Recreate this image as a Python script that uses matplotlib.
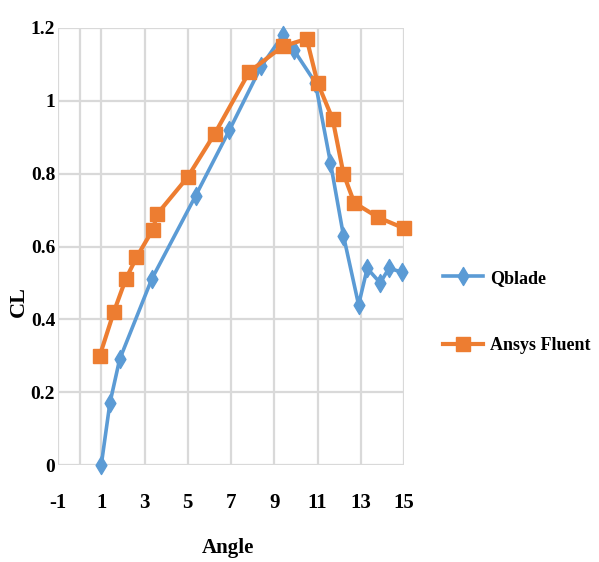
import numpy as np
import matplotlib.pyplot as plt
from matplotlib.path import Path

# values
qblade_angle = [1.0, 1.4, 1.85, 3.33, 5.37, 6.93, 8.4, 9.4, 9.9, 10.9, 11.6, 12.2, 12.9, 13.3, 13.9, 14.3, 14.9]
qblade_cl = [0.0, 0.17, 0.29, 0.51, 0.74, 0.92, 1.095, 1.18, 1.14, 1.05, 0.83, 0.63, 0.44, 0.54, 0.50, 0.54, 0.53]

fluent_angle = [0.93, 1.58, 2.13, 2.63, 3.37, 3.6, 4.99, 6.25, 7.85, 9.4, 10.5, 11.0, 11.7, 12.2, 12.7, 13.8, 15.0]
fluent_cl = [0.30, 0.42, 0.51, 0.57, 0.645, 0.69, 0.79, 0.91, 1.08, 1.15, 1.17, 1.05, 0.95, 0.80, 0.72, 0.68, 0.65]

x_ticks = [-1, 1, 3, 5, 7, 9, 11, 13, 15]
x_grid = [0, 1, 3, 5, 7, 9, 11, 13, 15]
y_ticks = [0, 0.2, 0.4, 0.6, 0.8, 1.0, 1.2]
y_labels = ['0', '0.2', '0.4', '0.6', '0.8', '1', '1.2']

blue = '#5b9bd5'
orange = '#ed7d31'
grid_col = '#d9d9d9'

plt.rcParams['font.family'] = ['Liberation Serif', 'DejaVu Serif']
plt.rcParams['font.weight'] = 'bold'

# tall narrow diamond like the squeezed excel picture
diamond = Path([(-0.6, 0), (0, 1), (0.6, 0), (0, -1), (-0.6, 0)],
               [Path.MOVETO, Path.LINETO, Path.LINETO, Path.LINETO, Path.CLOSEPOLY])

fig = plt.figure(figsize=(5.99, 5.62), dpi=100)
ax = fig.add_axes([58/599, 1-465/562, (404-58)/599, (465-28)/562])

ax.set_xlim(-1, 15)
ax.set_ylim(0, 1.2)

for xv in x_grid:
    ax.axvline(xv, color=grid_col, lw=1.6, zorder=0)
for yv in y_ticks:
    ax.axhline(yv, color=grid_col, lw=1.6, zorder=0)
for s in ax.spines.values():
    s.set_visible(False)
ax.axvline(-1, color=grid_col, lw=1.6, zorder=0)

ax.plot(qblade_angle, qblade_cl, color=blue, lw=2.6, marker=diamond, ms=13,
        label='Qblade', clip_on=False, zorder=3)
ax.plot(fluent_angle, fluent_cl, color=orange, lw=3, marker='s', ms=10.5,
        label='Ansys Fluent', clip_on=False, zorder=4)

ax.set_xticks(x_ticks)
ax.set_xticklabels([str(v) for v in x_ticks])
ax.set_yticks(y_ticks)
ax.set_yticklabels(y_labels)
ax.tick_params(length=0, labelsize=14)
ax.tick_params(axis='y', pad=2)
ax.tick_params(axis='x', pad=20, labelsize=15)

# axis titles placed in figure pixels
fig.text(228/599, 1-548/562, 'Angle', fontsize=15, fontweight='bold',
         ha='center', va='center')
fig.text(19/599, 1-302/562, 'CL', fontsize=16, fontweight='bold',
         rotation=90, ha='center', va='center')

fig.legend(loc='center left', bbox_to_anchor=(443/599, 1-312/562), frameon=False,
           borderpad=0, borderaxespad=0, labelspacing=2.8, handlelength=2.2,
           handletextpad=0.4, prop={'weight': 'bold', 'size': 13})

fig.savefig('out.png', dpi=100)
